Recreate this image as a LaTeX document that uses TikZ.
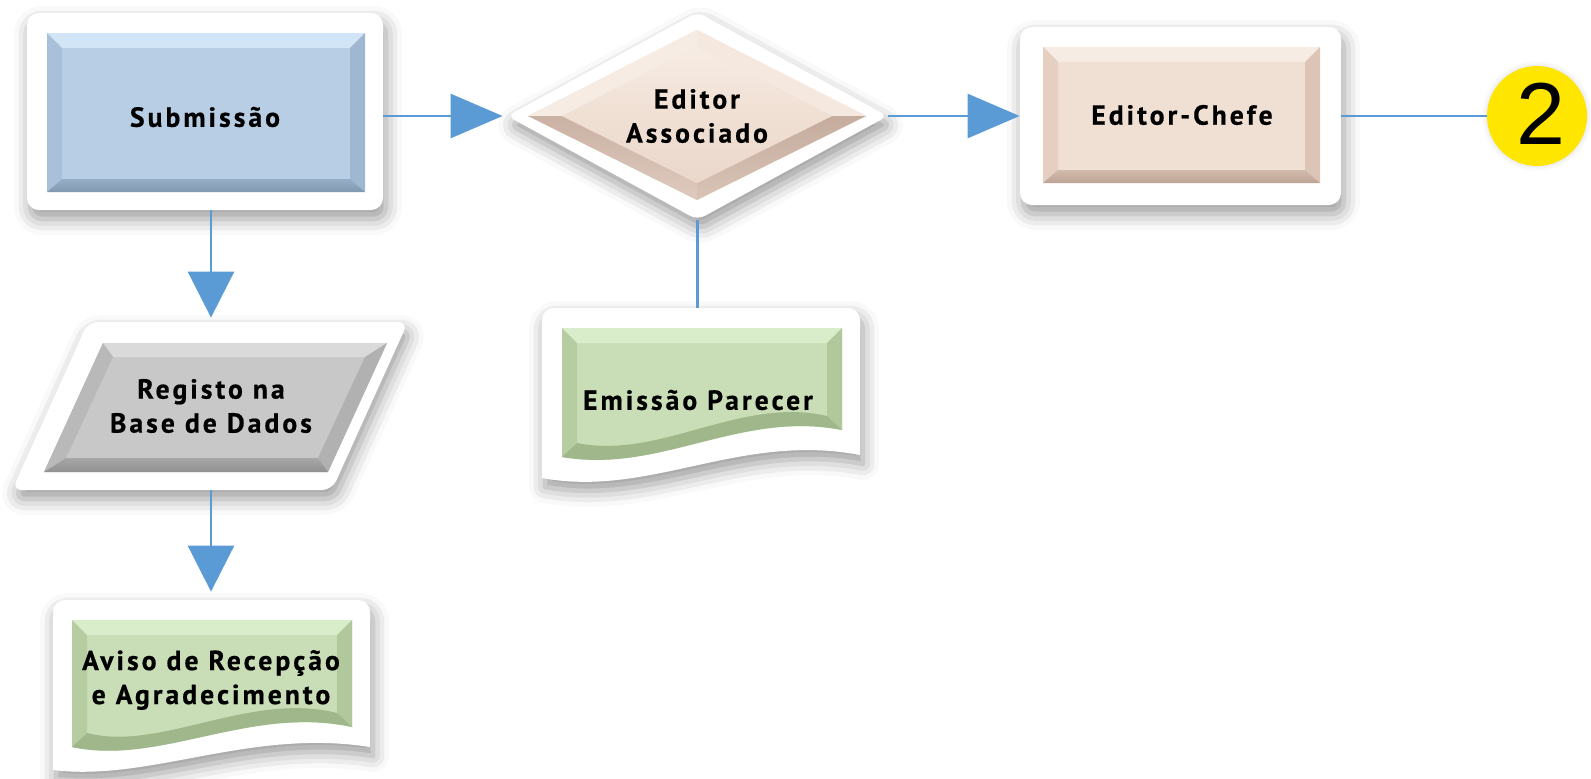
\documentclass[tikz,border=0pt]{standalone}
\usepackage{fontspec}
\setmainfont{PT Sans}
\newfontfamily\lblfont[LetterSpace=11, BoldFeatures={FakeBold=0.6}]{PT Sans}
\setsansfont{Liberation Sans}
\usetikzlibrary{arrows.meta,shadows.blur,shapes.geometric}

\definecolor{arrowblue}{HTML}{5B9BD5}
\definecolor{blueBase}{HTML}{B8CEE4}
\definecolor{blueTop}{HTML}{D2E5F6}
\definecolor{blueLeft}{HTML}{A8C0D9}
\definecolor{blueRight}{HTML}{9FB7D0}
\definecolor{blueBot}{HTML}{8099B1}
\definecolor{peBase}{HTML}{F0DFD3}
\definecolor{peTop}{HTML}{F7ECE4}
\definecolor{peLeft}{HTML}{E4CFC1}
\definecolor{peRight}{HTML}{DCC5B7}
\definecolor{peBot}{HTML}{BDA394}
\definecolor{grBase}{HTML}{C9DDB6}
\definecolor{grTop}{HTML}{DAEDCB}
\definecolor{grLeft}{HTML}{B6CDA1}
\definecolor{grRight}{HTML}{B0C89C}
\definecolor{grBot}{HTML}{9FB78B}
\definecolor{gyBase}{HTML}{C8C8C8}
\definecolor{gyTop}{HTML}{DADADA}
\definecolor{gyLeft}{HTML}{B9B9B9}
\definecolor{gyRight}{HTML}{B1B1B1}
\definecolor{gyBot}{HTML}{919191}
\definecolor{numyellow}{HTML}{FFE600}

\newcommand\myrectbevel[5]{%
  \fill[#5Base] (#1,#2) rectangle (#3,#4);
  \fill[#5Top] (#1,#2) -- (#3,#2) -- ({#3-15},{#2+15}) -- ({#1+15},{#2+15}) -- cycle;
  \fill[#5Left] (#1,#2) -- ({#1+15},{#2+15}) -- ({#1+15},{#4-13}) -- (#1,#4) -- cycle;
  \fill[#5Right] (#3,#2) -- ({#3-15},{#2+15}) -- ({#3-15},{#4-13}) -- (#3,#4) -- cycle;
  \shade[top color=#5Bot!60!#5Base, bottom color=#5Bot] (#1,#4) -- ({#1+15},{#4-13}) -- ({#3-15},{#4-13}) -- (#3,#4) -- cycle;
}
% x1, top, x2, yLeftBottom, c1x, c1y, c2x, c2y, yRightBottom
\newcommand\mydocbevel[9]{%
  \fill[grBase] (#1,#2) -- (#3,#2) -- (#3,#9) .. controls (#7,#8) and (#5,#6) .. (#1,#4) -- cycle;
  \fill[grTop] (#1,#2) -- (#3,#2) -- ({#3-15},{#2+15}) -- ({#1+15},{#2+15}) -- cycle;
  \fill[grLeft] (#1,#2) -- ({#1+15},{#2+15}) -- ({#1+15},{#4-14}) -- (#1,#4) -- cycle;
  \fill[grRight] (#3,#2) -- ({#3-15},{#2+15}) -- ({#3-15},{#9-14}) -- (#3,#9) -- cycle;
  \fill[grBot] (#1,#4) .. controls (#5,#6) and (#7,#8) .. (#3,#9) -- ({#3-15},{#9-14})
      .. controls (#7,{#8-14}) and (#5,{#6-14}) .. ({#1+15},{#4-14}) -- cycle;
}

\tikzset{
  panel/.style={fill=white, blur shadow={shadow xshift=1.5pt, shadow yshift=-4.5pt,
      shadow blur radius=8pt, shadow opacity=40}},
  conn/.style={draw=arrowblue, line width=1.4pt},
  harrow/.style={conn, -{Triangle[length=26pt,width=22pt]}},
  varrow/.style={conn, -{Triangle[length=23pt,width=23pt]}},
  lbl/.style={font=\lblfont\bfseries\fontsize{13.8}{17}\selectfont, align=center,
      text=black, inner sep=0pt},
  anchorbox/.style={inner sep=0pt, draw=none},
}

\begin{document}
\begin{tikzpicture}[x=0.5pt,y=-0.5pt]
\useasboundingbox (0,0) rectangle (1591,778);

% ---------- Submissao ----------
\node[panel, rounded corners=6pt, minimum width=178pt, minimum height=98.5pt, inner sep=0pt]
  (sub) at (205,111.5) {};
\myrectbevel{47}{33}{365}{192}{blue}
\node[lbl] (subt) at (205,117) {Submissão};

% ---------- Editor Associado ----------
\node[panel, diamond, aspect=1.83, minimum width=190.5pt, minimum height=104pt,
  inner sep=0pt, rounded corners=4pt] (ea) at (697.5,116) {};
\fill[peBase] (528,116) -- (697,30) -- (866,116) -- (697,200) -- cycle;
\fill[peTop] (528,116) -- (697,30) -- (697,47) -- (562,116) -- cycle;
\fill[peTop!70!peBase] (697,30) -- (866,116) -- (832,116) -- (697,47) -- cycle;
\shade[top color=peBot!75!peBase, bottom color=peBot!35!peBase] (528,116) -- (562,116) -- (697,183) -- (697,200) -- cycle;
\shade[top color=peBot!85!peBase, bottom color=peBot!45!peBase] (866,116) -- (697,200) -- (697,183) -- (832,116) -- cycle;
\shade[top color=peTop, bottom color=peBase] (562,116) -- (697,47) -- (832,116) -- cycle;
\shade[top color=peBase, bottom color=peBase!88!peBot] (562,116) -- (832,116) -- (697,183) -- cycle;
\node[lbl] (eat) at (697,116) {Editor\\Associado};

% ---------- Editor-Chefe ----------
\node[panel, rounded corners=6pt, minimum width=160.5pt, minimum height=89pt, inner sep=0pt]
  (ec) at (1180.5,116) {};
\myrectbevel{1043}{47}{1320}{183}{pe}
\node[lbl] (ect) at (1182,115) {Editor-Chefe};

% ---------- circle 2 ----------
\node[circle, fill=numyellow, minimum size=50pt, inner sep=0pt,
  blur shadow={shadow xshift=0pt, shadow yshift=0pt, shadow blur radius=3pt, shadow opacity=15}]
  (c2) at (1537,116) {};
\node[font=\sffamily\fontsize{44}{44}\selectfont, inner sep=0pt] (c2t) at (1541,114) {2};

% ---------- Registo ----------
\fill[white, rounded corners=5pt, blur shadow={shadow xshift=1.5pt, shadow yshift=-4.5pt,
      shadow blur radius=8pt, shadow opacity=40}]
  (88,322) -- (408,322) -- (332,490) -- (12,490) -- cycle;
\fill[gyBase] (103,343) -- (387,343) -- (328,472) -- (44,472) -- cycle;
\fill[gyTop] (103,343) -- (387,343) -- (365,357) -- (113,357) -- cycle;
\fill[gyLeft] (103,343) -- (113,357) -- (66,458) -- (44,472) -- cycle;
\fill[gyRight] (387,343) -- (365,357) -- (318,458) -- (328,472) -- cycle;
\shade[top color=gyBot!60!gyBase, bottom color=gyBot] (44,472) -- (66,458) -- (318,458) -- (328,472) -- cycle;
\node[lbl, anchorbox, minimum height=84pt, minimum width=150pt] (reg) at (211,406)
  {Registo na\\Base de Dados};

% ---------- Aviso ----------
\fill[white, blur shadow={shadow xshift=1.5pt, shadow yshift=-4.5pt,
      shadow blur radius=8pt, shadow opacity=40}]
  (53,612) arc[start angle=180, end angle=270, radius=12] -- (358,600)
  arc[start angle=270, end angle=360, radius=12] -- (370,747)
  .. controls (250,728) and (150,782) .. (53,770) -- cycle;
\mydocbevel{72}{620}{352}{747}{160}{766}{250}{705}{727}
\node[lbl, anchorbox, minimum height=80pt, minimum width=140pt] (av) at (211,680)
  {Aviso de Recepção\\e Agradecimento};

% ---------- Emissao Parecer ----------
\fill[white, blur shadow={shadow xshift=1.5pt, shadow yshift=-4.5pt,
      shadow blur radius=8pt, shadow opacity=40}]
  (542,320) arc[start angle=180, end angle=270, radius=12] -- (848,308)
  arc[start angle=270, end angle=360, radius=12] -- (860,455)
  .. controls (740,432) and (650,498) .. (542,478) -- cycle;
\mydocbevel{562}{328}{842}{457}{660}{474}{740}{410}{430}
\node[lbl, anchorbox, minimum height=92pt, minimum width=140pt] (emi) at (698,400)
  {Emissão Parecer};

% ---------- connectors ----------
\draw[harrow, shorten >=2pt] (sub.east |- ea.west) -- (ea.west);
\draw[harrow] (ea.east) -- (ec.west);
\draw[conn] (ec.east) -- (c2.west);
\draw[conn] (ea.south) -- (ea.south |- emi.north);
\draw[varrow, shorten >=2pt] (reg.north |- sub.south) -- (reg.north);
\draw[varrow, shorten >=4pt] (reg.south) -- (reg.south |- av.north);
\end{tikzpicture}
\end{document}
